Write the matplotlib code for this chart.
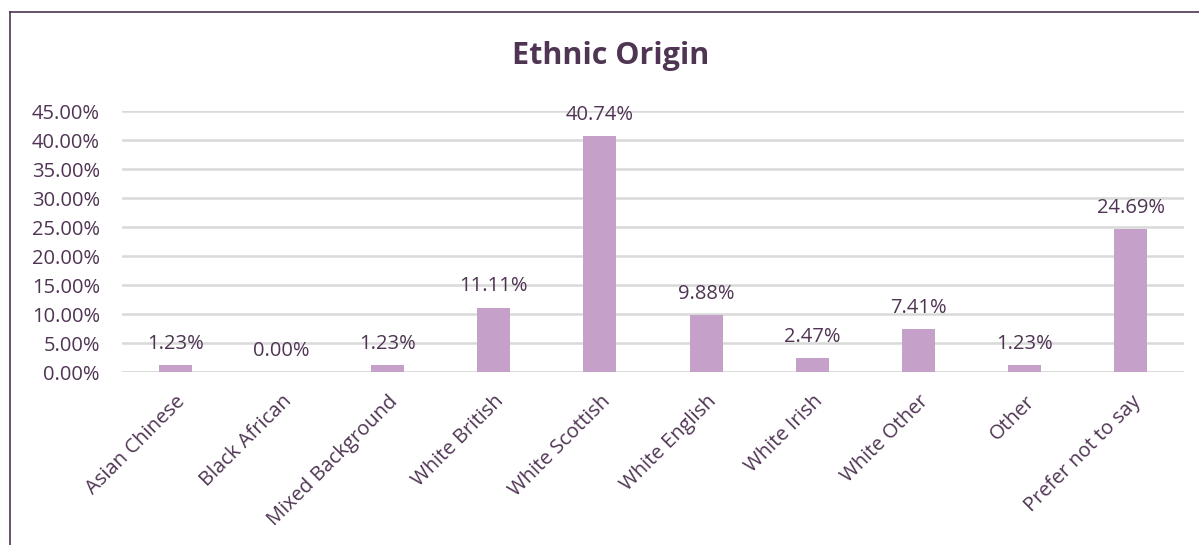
import matplotlib.pyplot as plt
from matplotlib.lines import Line2D
from matplotlib.ticker import FuncFormatter

categories = ["Asian Chinese", "Black African", "Mixed Background", "White British",
              "White Scottish", "White English", "White Irish", "White Other",
              "Other", "Prefer not to say"]
shares = [1.23, 0.00, 1.23, 11.11, 40.74, 9.88, 2.47, 7.41, 1.23, 24.69]
y_ticks = [0, 5, 10, 15, 20, 25, 30, 35, 40, 45]

text_col = "#4f3453"
bar_col = "#c5a0c9"
grid_col = "#d9d9d9"

plt.rcParams['font.family'] = ['Open Sans', 'DejaVu Sans']

fig = plt.figure(figsize=(11.99, 5.45), dpi=100)
ax = fig.add_axes([0.1018, 0.3174, 0.8857, 0.4789])

x = range(len(categories))
ax.bar(x, shares, width=0.31, color=bar_col, zorder=3)
for xi, v in zip(x, shares):
    ax.annotate(f"{v:.2f}%", (xi, v), xytext=(0, 8), textcoords='offset points',
                ha='center', va='bottom', fontsize=14.5, color=text_col)

ax.set_xlim(-0.5, len(categories) - 0.5)
ax.set_ylim(0, 45)
ax.set_yticks(y_ticks)
ax.yaxis.set_major_formatter(FuncFormatter(lambda v, _: f"{v:.2f}%"))
ax.grid(axis='y', color=grid_col, linewidth=1.8, zorder=0)
for s in ax.spines.values():
    s.set_visible(False)
ax.axhline(0, color=grid_col, linewidth=1.8, zorder=2)
ax.tick_params(axis='both', length=0, labelsize=14.5, labelcolor=text_col)
ax.tick_params(axis='y', pad=16)
ax.set_xticks(list(x))
ax.set_xticklabels(categories, rotation=45, ha='right', rotation_mode='anchor')
ax.tick_params(axis='x', pad=14)

fig.text(0.509, 0.897, "Ethnic Origin", ha='center', va='center',
         fontsize=22, fontweight='bold', color=text_col)

# chart frame, cut off at right and bottom
fig.add_artist(Line2D([10 / 1199, 1], [1 - 12 / 545, 1 - 12 / 545],
                      transform=fig.transFigure, color=text_col, linewidth=1.2))
fig.add_artist(Line2D([10 / 1199, 10 / 1199], [0, 1 - 12 / 545],
                      transform=fig.transFigure, color=text_col, linewidth=1.2))

fig.savefig("out.png", dpi=100)
